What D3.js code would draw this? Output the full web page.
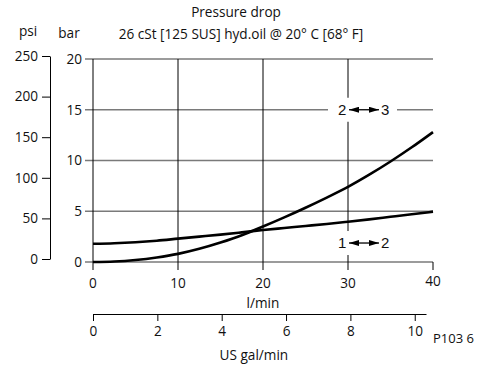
<!DOCTYPE html>
<html>
<head>
<meta charset="utf-8">
<script src="https://cdn.jsdelivr.net/npm/d3@7"></script>
<style>
  body { margin: 0; background: #fff; }
  svg { display: block; font-family: "Open Sans", sans-serif; }
  text { fill: #111; }
</style>
</head>
<body>
<svg id="svg" width="478" height="365"></svg>
<script>
// flow in l/min
var flow = [0, 2.5, 5, 7.5, 10, 12.5, 15, 17.5, 20, 22.5, 25, 27.5, 30, 32.5, 35, 37.5, 40];
// pressure drop in bar
var drop12 = [1.8, 1.85, 1.95, 2.1, 2.3, 2.5, 2.7, 2.92, 3.15, 3.35, 3.55, 3.75, 3.97, 4.2, 4.45, 4.7, 4.96];
var drop23 = [0, 0.05, 0.2, 0.45, 0.8, 1.3, 1.92, 2.64, 3.5, 4.4, 5.35, 6.35, 7.4, 8.6, 9.9, 11.3, 12.8];
var barTicks = [0, 5, 10, 15, 20];
var psiTicks = [0, 50, 100, 150, 200, 250];
var flowTicks = [0, 10, 20, 30, 40];
var galTicks = [0, 2, 4, 6, 8, 10];
var labels = [{text: ["2", "3"], x: 30, y: 15}, {text: ["1", "2"], x: 30, y: 1.87}];

var svg = d3.select("#svg");
var x = d3.scaleLinear().domain([0, 40]).range([93, 433]);
var y = d3.scaleLinear().domain([0, 20]).range([262, 59]);
var psi = d3.scaleLinear().domain([0, 250]).range([259, 56]);
var gal = d3.scaleLinear().domain([0, 10.35]).range([93, 426]);
var fs = 13.6;

// horizontal grid (bar)
svg.selectAll("line.hgrid").data(barTicks).enter().append("line")
  .attr("x1", 85).attr("x2", x(40))
  .attr("y1", d => y(d)).attr("y2", d => y(d))
  .attr("stroke", "#7a7a7a").attr("stroke-width", 1.6);
svg.selectAll("text.bar").data(barTicks).enter().append("text")
  .attr("x", 82).attr("y", d => y(d)).attr("dy", "0.35em")
  .attr("text-anchor", "end").attr("font-size", fs).text(d => d);

// vertical grid (l/min)
svg.selectAll("line.vgrid").data(flowTicks).enter().append("line")
  .attr("x1", d => x(d)).attr("x2", d => x(d))
  .attr("y1", d => d == 40 ? y(0) : y(20)).attr("y2", 270)
  .attr("stroke", "#000").attr("stroke-width", 1);
svg.selectAll("text.flow").data(flowTicks).enter().append("text")
  .attr("x", d => x(d)).attr("y", d => d == 40 ? 281 : 283).attr("dy", "0.35em")
  .attr("text-anchor", "middle").attr("font-size", fs).text(d => d);

// psi axis
var psiAxis = svg.append("g").attr("transform", "translate(50,0)")
  .call(d3.axisLeft(psi).tickValues(psiTicks).tickSize(8).tickSizeOuter(0).tickPadding(4));
psiAxis.select(".domain").attr("stroke", "#000");
psiAxis.selectAll("text").attr("font-size", fs).attr("font-family", "Open Sans").attr("fill", "#111");

// gal axis
var galAxis = svg.append("g").attr("transform", "translate(0,314)")
  .call(d3.axisBottom(gal).tickValues(galTicks).tickSize(7).tickSizeOuter(0).tickPadding(5));
galAxis.select(".domain").attr("stroke", "#000");
galAxis.selectAll("text").attr("font-size", fs).attr("font-family", "Open Sans").attr("fill", "#111");

// curves
var line = d3.line().x((d, i) => x(flow[i])).y(d => y(d)).curve(d3.curveMonotoneX);
[drop12, drop23].forEach(function(s) {
  svg.append("path").attr("d", line(s))
    .attr("fill", "none").attr("stroke", "#000").attr("stroke-width", 2.6);
});

// port labels
svg.append("defs").append("marker").attr("id", "ah")
  .attr("viewBox", "0 0 10 6").attr("refX", 10).attr("refY", 3)
  .attr("markerWidth", 10).attr("markerHeight", 6).attr("markerUnits", "userSpaceOnUse")
  .attr("orient", "auto-start-reverse")
  .append("path").attr("d", "M0,0L10,3L0,6Z").attr("fill", "#000");
labels.forEach(function(l) {
  var cx = x(l.x), cy = y(l.y);
  svg.append("rect").attr("x", cx - 20).attr("y", cy - 12).attr("width", 69).attr("height", 24).attr("fill", "#fff");
  svg.append("text").attr("x", cx - 10).attr("y", cy).attr("dy", "0.35em")
    .attr("font-size", 15).attr("font-family", "Liberation Sans Narrow, Liberation Sans").text(l.text[0]);
  svg.append("text").attr("x", cx + 33).attr("y", cy).attr("dy", "0.35em")
    .attr("font-size", 15).attr("font-family", "Liberation Sans Narrow, Liberation Sans").text(l.text[1]);
  svg.append("line").attr("x1", cx + 1).attr("x2", cx + 31).attr("y1", cy).attr("y2", cy)
    .attr("stroke", "#000").attr("stroke-width", 1.3)
    .attr("marker-start", "url(#ah)").attr("marker-end", "url(#ah)");
});

// titles
svg.append("text").attr("x", 236).attr("y", 12).attr("dy", "0.35em").attr("text-anchor", "middle")
  .attr("font-size", fs).text("Pressure drop");
svg.append("text").attr("x", 241).attr("y", 34).attr("dy", "0.35em").attr("text-anchor", "middle")
  .attr("font-size", fs).text("26 cSt [125 SUS] hyd.oil @ 20° C [68° F]");
svg.append("text").attr("x", 28).attr("y", 31).attr("dy", "0.35em").attr("text-anchor", "middle")
  .attr("font-size", fs).text("psi");
svg.append("text").attr("x", 69).attr("y", 33).attr("dy", "0.35em").attr("text-anchor", "middle")
  .attr("font-size", fs).text("bar");
svg.append("text").attr("x", x(20)).attr("y", 303).attr("dy", "0.35em").attr("text-anchor", "middle")
  .attr("font-size", fs).text("l/min");
svg.append("text").attr("x", gal(5)).attr("y", 355).attr("dy", "0.35em").attr("text-anchor", "middle")
  .attr("font-size", fs).text("US gal/min");
svg.append("text").attr("x", 433).attr("y", 338).attr("dy", "0.35em")
  .attr("font-size", 13).text("P103 6");
</script>
</body>
</html>
